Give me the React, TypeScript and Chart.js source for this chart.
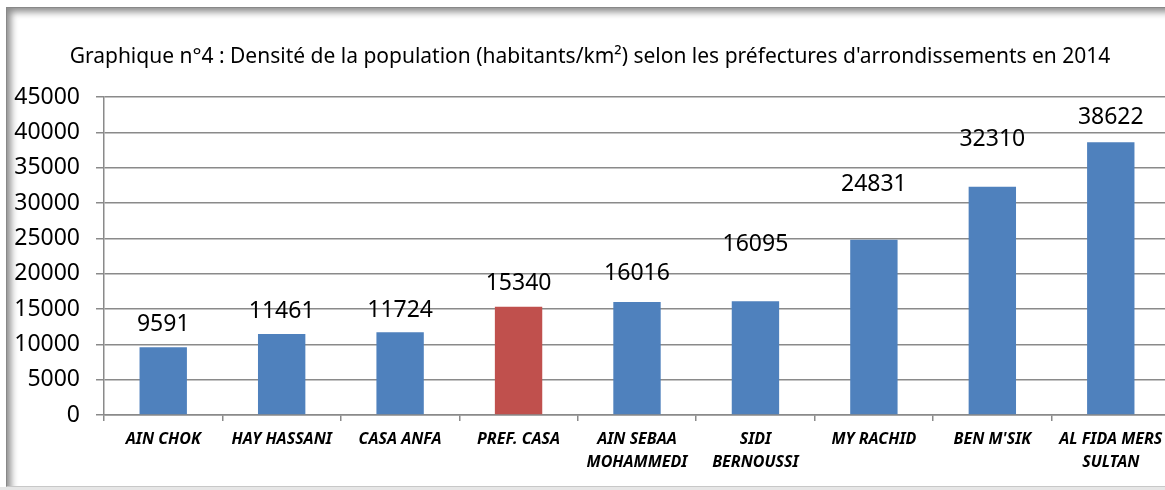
import React, { useEffect, useRef } from "react";
import { Chart, registerables } from "chart.js";

Chart.register(...registerables);

const titleText =
  "Graphique n°4 : Densité de la population (habitants/km²) selon les préfectures d'arrondissements en 2014";

const categories: string[][] = [
  ["AIN CHOK"],
  ["HAY HASSANI"],
  ["CASA ANFA"],
  ["PREF. CASA"],
  ["AIN SEBAA", "MOHAMMEDI"],
  ["SIDI", "BERNOUSSI"],
  ["MY RACHID"],
  ["BEN M'SIK"],
  ["AL FIDA MERS", "SULTAN"],
];

const densities: number[] = [9591, 11461, 11724, 15340, 16016, 16095, 24831, 32310, 38622];

const yMin = 0;
const yMax = 45000;
const yStep = 5000;

const highlightIndex = 3;

// pixel lift of each value label above its bar (manually placed labels in the original)
const labelLift: number[] = [23, 23, 22, 23, 28, 57, 55, 47, 25];

const BLUE = "#4F81BD";
const RED = "#C0504D";
const GRID = "#8a8a8a";
const FONT = "'Noto Sans', 'Open Sans', sans-serif";

const valueLabels = {
  id: "valueLabels",
  afterDatasetsDraw(chart: any) {
    const meta = chart.getDatasetMeta(0);
    const ctx = chart.ctx;
    ctx.save();
    ctx.font = `23px ${FONT}`;
    ctx.fillStyle = "#000";
    ctx.textAlign = "center";
    ctx.textBaseline = "middle";
    meta.data.forEach((bar: any, i: number) => {
      ctx.fillText(String(densities[i]), bar.x, bar.y - labelLift[i]);
    });
    ctx.restore();
  },
};

export default function App() {
  const ref = useRef<HTMLCanvasElement | null>(null);

  useEffect(() => {
    document.body.style.margin = "0";
    const canvas = ref.current!;
    const chart = new Chart(canvas, {
      type: "bar",
      data: {
        labels: categories,
        datasets: [
          {
            data: densities,
            backgroundColor: densities.map((_, i) => (i === highlightIndex ? RED : BLUE)),
            borderWidth: 0,
            barPercentage: 0.4,
            categoryPercentage: 1,
          },
        ],
      },
      options: {
        responsive: false,
        animation: false,
        devicePixelRatio: 1,
        layout: { padding: { left: 10, right: 30, top: 0, bottom: 0 } },
        plugins: {
          legend: { display: false },
          tooltip: { enabled: false },
          title: {
            display: true,
            text: titleText,
            color: "#000",
            font: { family: FONT, size: 21, weight: "normal", lineHeight: 1.2 },
            padding: { top: 44, bottom: 28 },
          },
        },
        scales: {
          x: {
            offset: true,
            grid: {
              display: true,
              drawOnChartArea: false,
              drawTicks: true,
              tickLength: 6,
              color: GRID,
              lineWidth: 1.5,
              offset: true,
            },
            border: { display: true, color: GRID, width: 1.5 },
            ticks: {
              color: "#000",
              padding: 7,
              maxRotation: 0,
              autoSkip: false,
              font: { family: FONT, size: 16, weight: "bold", style: "italic", lineHeight: 1.44 },
            },
            afterFit(scale: any) {
              scale.height = 75;
            },
          },
          y: {
            min: yMin,
            max: yMax,
            grid: { color: GRID, lineWidth: 1.5, tickLength: 8, drawTicks: true },
            border: { display: true, color: GRID, width: 1.5 },
            ticks: {
              stepSize: yStep,
              color: "#000",
              padding: 16,
              font: { family: FONT, size: 23 },
              callback: (v: any) => String(v),
            },
            afterFit(scale: any) {
              scale.width = 94;
            },
          },
        },
      },
      plugins: [valueLabels],
    });
    return () => chart.destroy();
  }, []);

  return (
    <div
      style={{
        position: "absolute",
        left: 0,
        top: 0,
        width: 1165,
        height: 490,
        overflow: "hidden",
        background: "#fff",
      }}
    >
      <div
        style={{
          position: "absolute",
          left: 6,
          top: 7,
          width: 1220,
          height: 478,
          borderLeft: "1px solid #888",
          borderTop: "1px solid #888",
          borderBottom: "1px solid #c8c8c8",
          boxShadow: "inset 7px 7px 7px -3px rgba(0,0,0,0.45)",
        }}
      />
      <div
        style={{
          position: "absolute",
          left: 0,
          top: 487,
          width: 1165,
          height: 3,
          background: "#e6e6e6",
        }}
      />
      <canvas
        ref={ref}
        width={1200}
        height={490}
        style={{ position: "absolute", left: 0, top: 0, width: 1200, height: 490 }}
      />
    </div>
  );
}
